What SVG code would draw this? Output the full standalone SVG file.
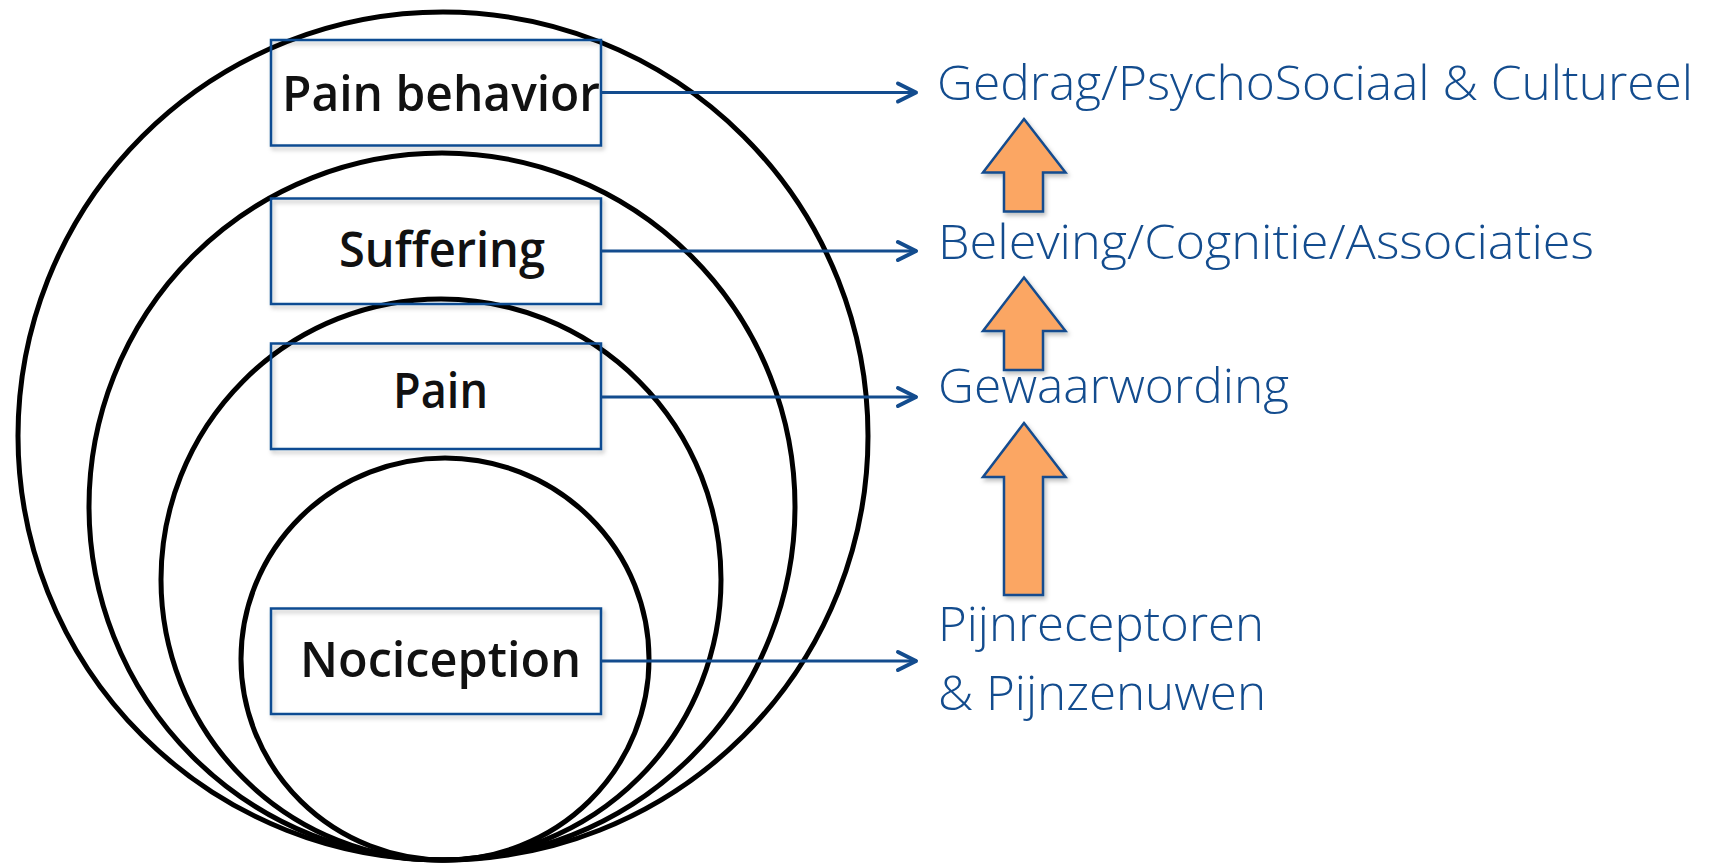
<svg xmlns="http://www.w3.org/2000/svg" width="1719" height="866" viewBox="0 0 1719 866">
  <defs>
    <style>
      .ring { fill: none; stroke: #000; stroke-width: 5; }
      .box { fill: none; stroke: #0F4C92; stroke-width: 2.5; }
      .boxtxt { font-family: "Open Sans", "DejaVu Sans", sans-serif; font-size: 49px; font-weight: 600; fill: #111; text-anchor: start; }
      .lbl { font-family: "Open Sans", "Noto Sans", sans-serif; font-size: 47.5px; font-weight: 300; fill: #134C8E; }
      .conn { stroke: #134C8E; stroke-width: 3; fill: none; }
      .up { fill: #FBA663; stroke: #134C8E; stroke-width: 2.5; stroke-linejoin: miter; }
    </style>
    <marker id="chev" markerUnits="userSpaceOnUse" markerWidth="30" markerHeight="30" viewBox="-25 -15 30 30" refX="0" refY="0" orient="auto">
      <path d="M -19 -9 L -1 0 L -19 9" fill="none" stroke="#134C8E" stroke-width="4" stroke-linecap="round" stroke-linejoin="round"/>
    </marker>
    <filter id="sh" x="-10%" y="-10%" width="120%" height="130%">
      <feDropShadow dx="2" dy="3" stdDeviation="2" flood-color="#000" flood-opacity="0.25"/>
    </filter>
  </defs>
  <rect width="1719" height="866" fill="#fff"/>

  <g id="rings">
    <ellipse class="ring" cx="443" cy="436" rx="425" ry="424"/>
    <ellipse class="ring" cx="442" cy="506.5" rx="353" ry="353.5"/>
    <ellipse class="ring" cx="441" cy="579.5" rx="280" ry="280.5"/>
    <ellipse class="ring" cx="445" cy="659" rx="204" ry="201"/>
  </g>

  <g id="node-pain-behavior">
    <rect class="box" x="271" y="40" width="330" height="105.5" filter="url(#sh)"/>
    <text class="boxtxt" x="282" y="111" textLength="318" lengthAdjust="spacingAndGlyphs">Pain behavior</text>
  </g>
  <g id="node-suffering">
    <rect class="box" x="271" y="198.5" width="330" height="105.5" filter="url(#sh)"/>
    <text class="boxtxt" x="339" y="267" textLength="206" lengthAdjust="spacingAndGlyphs">Suffering</text>
  </g>
  <g id="node-pain">
    <rect class="box" x="271" y="343.5" width="330" height="105.5" filter="url(#sh)"/>
    <text class="boxtxt" x="393" y="408" textLength="95" lengthAdjust="spacingAndGlyphs">Pain</text>
  </g>
  <g id="node-nociception">
    <rect class="box" x="271" y="608.5" width="330" height="105.5" filter="url(#sh)"/>
    <text class="boxtxt" x="300" y="677" textLength="281" lengthAdjust="spacingAndGlyphs">Nociception</text>
  </g>

  <g id="label-gedrag">
    <text class="lbl" x="937" y="99.5" textLength="756" lengthAdjust="spacingAndGlyphs">Gedrag/PsychoSociaal &amp; Cultureel</text>
  </g>
  <g id="label-beleving">
    <text class="lbl" x="938" y="258.5" textLength="656" lengthAdjust="spacingAndGlyphs">Beleving/Cognitie/Associaties</text>
  </g>
  <g id="label-gewaarwording">
    <text class="lbl" x="938" y="403" textLength="351" lengthAdjust="spacingAndGlyphs">Gewaarwording</text>
  </g>
  <g id="label-pijn">
    <text class="lbl" x="938" y="641" textLength="326" lengthAdjust="spacingAndGlyphs">Pijnreceptoren</text>
    <text class="lbl" x="938" y="709.5" textLength="328" lengthAdjust="spacingAndGlyphs">&amp; Pijnzenuwen</text>
  </g>

  <g id="connectors">
    <line class="conn" x1="601" y1="92.5" x2="917" y2="92.5" marker-end="url(#chev)"/>
    <line class="conn" x1="601" y1="251" x2="917" y2="251" marker-end="url(#chev)"/>
    <line class="conn" x1="601" y1="397" x2="917" y2="397" marker-end="url(#chev)"/>
    <line class="conn" x1="601" y1="661" x2="917" y2="661" marker-end="url(#chev)"/>
    <path class="up" filter="url(#sh)" d="M 1024 119 L 1065.5 172.5 L 1043 172.5 L 1043 211.5 L 1004 211.5 L 1004 172.5 L 983 172.5 Z"/>
    <path class="up" filter="url(#sh)" d="M 1024 277.5 L 1065.5 331 L 1043 331 L 1043 370 L 1004 370 L 1004 331 L 983 331 Z"/>
    <path class="up" filter="url(#sh)" d="M 1024 423 L 1065.5 477 L 1043 477 L 1043 595 L 1004 595 L 1004 477 L 983 477 Z"/>
  </g>
</svg>
